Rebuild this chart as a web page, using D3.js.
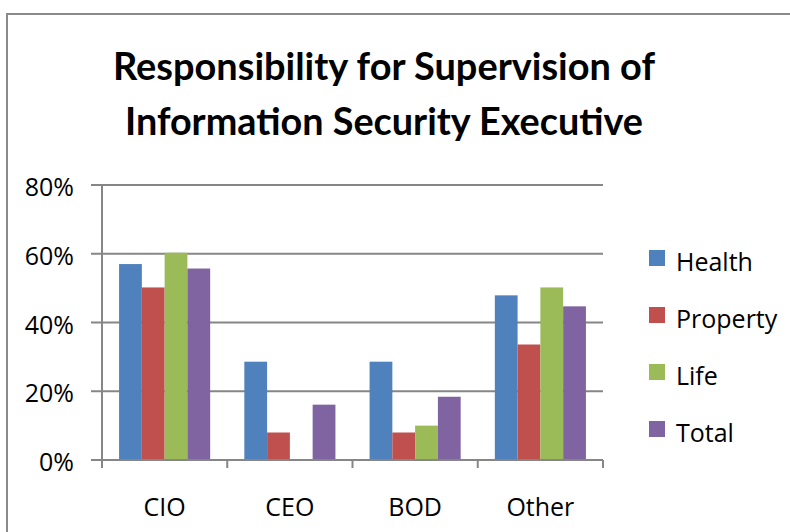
<!DOCTYPE html>
<html>
<head>
<meta charset="utf-8">
<script src="https://cdn.jsdelivr.net/npm/d3@7"></script>
<style>
  html, body { margin: 0; padding: 0; background: #fff; overflow: hidden; }
  svg { display: block; }
</style>
</head>
<body>
<svg id="chart" width="790" height="532"></svg>
<script>
// ---- data ----
const categories = ["CIO", "CEO", "BOD", "Other"];
const seriesNames = ["Health", "Property", "Life", "Total"];
const health   = [57.0, 28.6, 28.6, 47.9];
const property = [50.2, 8.0, 8.0, 33.6];
const life     = [60.3, 0, 10.0, 50.2];
const total    = [55.7, 16.1, 18.4, 44.7];
const yTicks = [0, 20, 40, 60, 80];
const titleLines = ["Responsibility for Supervision of", "Information Security Executive"];

const seriesValues = [health, property, life, total];
const colors = ["#4F81BD", "#C0504D", "#9BBB59", "#8064A2"];

const svg = d3.select("#chart");
const gridColor = "#868686";
const font = "'Open Sans', sans-serif";

// outer frame
svg.append("rect")
  .attr("x", 7).attr("y", 14)
  .attr("width", 800).attr("height", 540)
  .attr("fill", "none").attr("stroke", "#8a8a8a").attr("stroke-width", 2);

// title
const titleCfg = [{y: 79.5, len: 542}, {y: 135, len: 518}];
svg.selectAll("text.title").data(titleLines).enter().append("text")
  .attr("class", "title")
  .attr("x", 384)
  .attr("y", (d, i) => titleCfg[i].y)
  .attr("text-anchor", "middle")
  .attr("textLength", (d, i) => titleCfg[i].len)
  .attr("lengthAdjust", "spacingAndGlyphs")
  .style("font-family", "Lato, 'Open Sans', sans-serif")
  .style("font-weight", "bold")
  .style("font-size", "38px")
  .attr("fill", "#000")
  .text(d => d);

// scales
const plotLeft = 102, plotRight = 603, plotTop = 185, plotBottom = 460;
const x0 = d3.scaleBand().domain(categories).range([plotLeft, plotRight]).padding(0);
const x1 = d3.scaleBand().domain(seriesNames).range([0, x0.bandwidth()])
  .paddingInner(0).paddingOuter(0.75);
const y = d3.scaleLinear().domain([0, 80]).range([plotBottom, plotTop]);

// gridlines
svg.append("g").selectAll("line").data(yTicks).enter().append("line")
  .attr("x1", plotLeft - 11).attr("x2", plotRight)
  .attr("y1", d => y(d)).attr("y2", d => y(d))
  .attr("stroke", gridColor).attr("stroke-width", 2);

// y labels
svg.append("g").selectAll("text").data(yTicks).enter().append("text")
  .attr("x", 74).attr("y", d => y(d) + 11)
  .attr("text-anchor", "end")
  .style("font-family", font).style("font-size", "25px")
  .attr("fill", "#000")
  .text(d => d + "%");

// bars
const groups = svg.append("g").selectAll("g").data(categories).enter().append("g")
  .attr("transform", d => `translate(${x0(d)},0)`);
groups.selectAll("rect")
  .data((c, ci) => seriesNames.map((s, si) => ({s, v: seriesValues[si][ci], si})))
  .enter().append("rect")
  .attr("x", d => x1(d.s))
  .attr("width", x1.bandwidth())
  .attr("y", d => y(d.v))
  .attr("height", d => y(0) - y(d.v))
  .attr("fill", d => colors[d.si]);

// y axis line
svg.append("line")
  .attr("x1", plotLeft).attr("x2", plotLeft)
  .attr("y1", plotTop).attr("y2", plotBottom + 8)
  .attr("stroke", gridColor).attr("stroke-width", 2);

// x axis line
svg.append("line")
  .attr("x1", plotLeft - 11).attr("x2", plotRight)
  .attr("y1", plotBottom).attr("y2", plotBottom)
  .attr("stroke", gridColor).attr("stroke-width", 2);

// category ticks
const tickXs = categories.map(c => x0(c)).concat([x0(categories[categories.length - 1]) + x0.bandwidth()]);
svg.append("g").selectAll("line").data(tickXs).enter().append("line")
  .attr("x1", d => d).attr("x2", d => d)
  .attr("y1", plotBottom).attr("y2", plotBottom + 8)
  .attr("stroke", gridColor).attr("stroke-width", 2);

// category labels
svg.append("g").selectAll("text").data(categories).enter().append("text")
  .attr("x", d => x0(d) + x0.bandwidth() / 2)
  .attr("y", plotBottom + 56)
  .attr("text-anchor", "middle")
  .style("font-family", font).style("font-size", "25px")
  .attr("fill", "#000")
  .text(d => d);

// legend
const legend = svg.append("g").selectAll("g").data(seriesNames).enter().append("g")
  .attr("transform", (d, i) => `translate(649,${250 + i * 57})`);
legend.append("rect")
  .attr("width", 16).attr("height", 16)
  .attr("fill", (d, i) => colors[i]);
legend.append("text")
  .attr("x", 27).attr("y", 21)
  .style("font-family", font).style("font-size", "25px")
  .attr("fill", "#000")
  .text(d => d);
</script>
</body>
</html>
